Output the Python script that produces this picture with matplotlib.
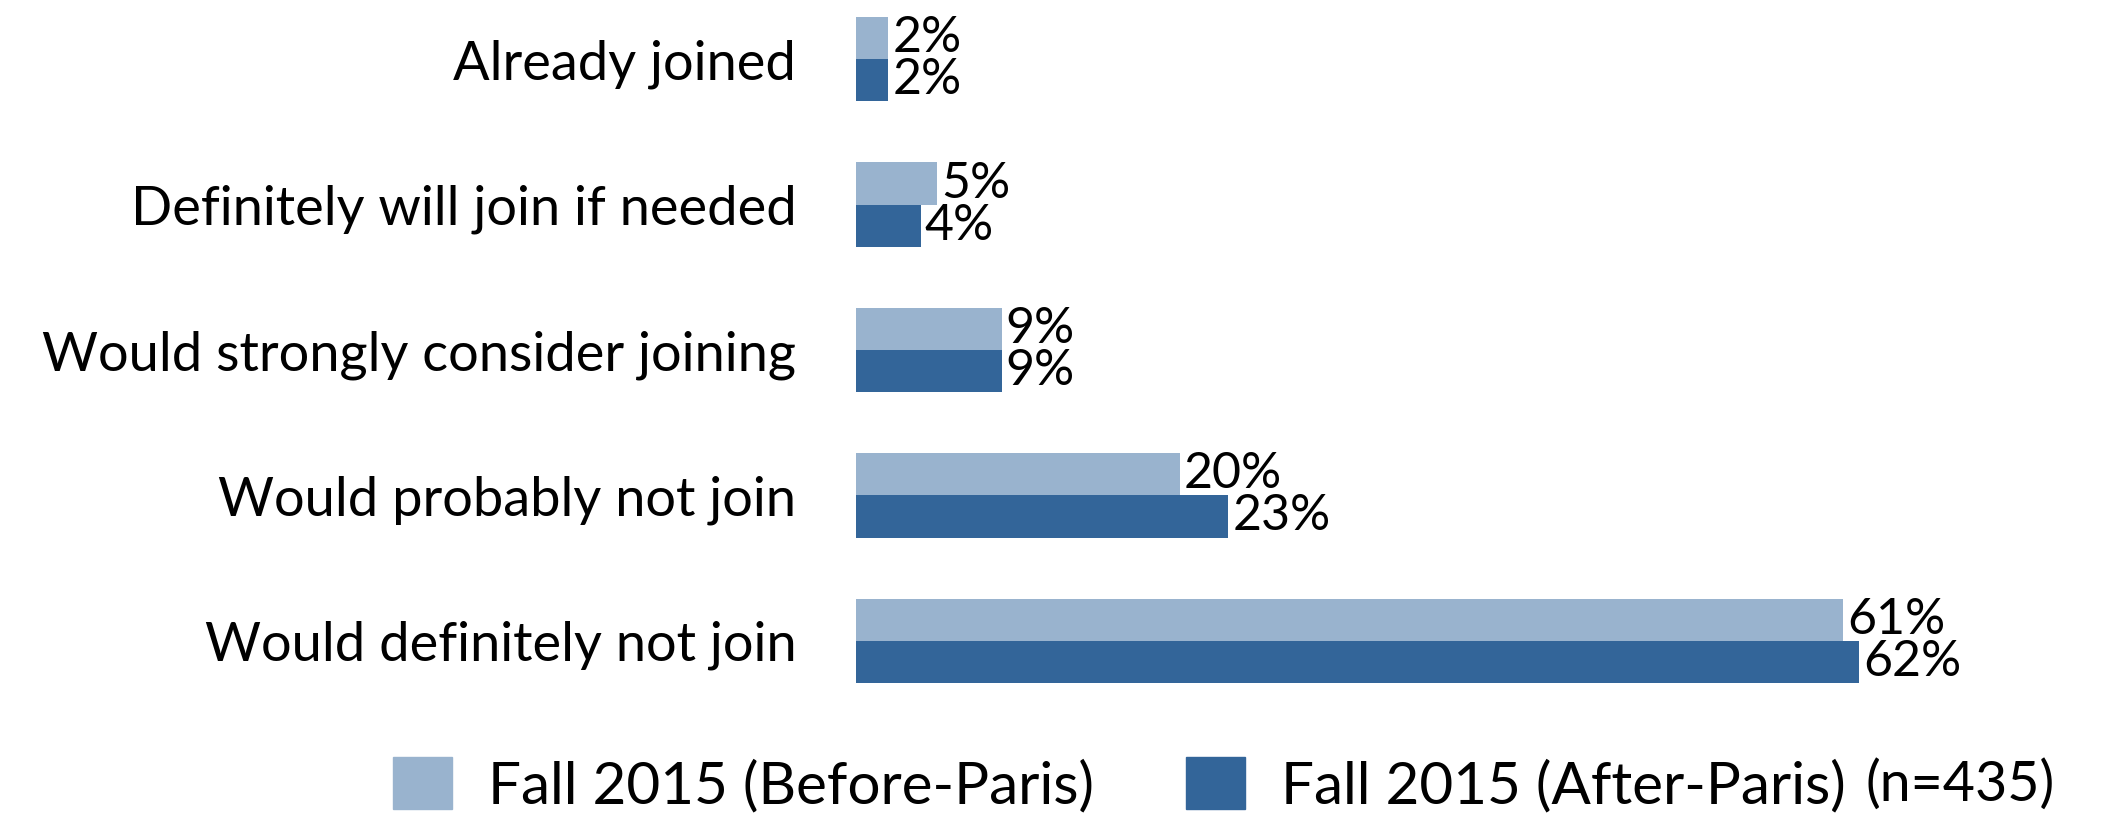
import matplotlib
matplotlib.use("Agg")
import matplotlib.pyplot as plt
from matplotlib.patches import Patch
import numpy as np

# data
categories = ["Already joined", "Definitely will join if needed",
              "Would strongly consider joining", "Would probably not join",
              "Would definitely not join"]
before_paris = [2, 5, 9, 20, 61]
after_paris = [2, 4, 9, 23, 62]
series_names = ["Fall 2015 (Before-Paris)", "Fall 2015 (After-Paris)"]
note = "(n=435)"

light = "#99B3CE"
dark = "#336599"
font = ["Lato", "DejaVu Sans"]

W, H = 2115, 814
fig = plt.figure(figsize=(W / 100, H / 100), dpi=100)
ax = fig.add_axes([856 / W, 0.1235, 1 - 856 / W, 0.8766])

y = np.arange(len(categories))
h = 0.29
ax.barh(y - h / 2, before_paris, height=h, color=light)
ax.barh(y + h / 2, after_paris, height=h, color=dark)

# value labels sit just right of each bar
for yi, b, a in zip(y, before_paris, after_paris):
    ax.text(b + 0.25, yi - h / 2, f"{b}%", va="center", ha="left",
            fontsize=36, family=font)
    ax.text(a + 0.25, yi + h / 2, f"{a}%", va="center", ha="left",
            fontsize=36, family=font)

ax.set_xlim(0, 77.8)
ax.set_ylim(4.5, -0.408)
ax.set_yticks(y)
ax.set_yticklabels(categories, fontsize=39, family=font)
ax.tick_params(axis="y", length=0, pad=43)
ax.set_xticks([])
for s in ax.spines.values():
    s.set_visible(False)

handles = [Patch(color=light), Patch(color=dark)]
leg = fig.legend(handles, series_names, loc="center left",
                 bbox_to_anchor=(393 / W, 1 - 785 / H), ncol=2, frameon=False,
                 borderpad=0, borderaxespad=0, handlelength=1.01,
                 handleheight=1.01, handletextpad=0.62, columnspacing=1.58,
                 prop={"family": font, "size": 42})
fig.text(1866 / W, 1 - 785 / H, note, fontsize=40, family=font,
         va="center", ha="left")

fig.savefig("out.png", dpi=100)
